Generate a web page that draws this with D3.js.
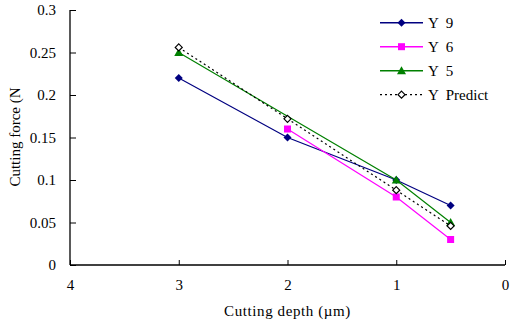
<!DOCTYPE html>
<html>
<head>
<meta charset="utf-8">
<script src="https://cdn.jsdelivr.net/npm/d3@7/dist/d3.min.js"></script>
<style>
body { margin: 0; background: #fff; }
text { font-family: "Liberation Serif", "Times New Roman", serif; font-size: 15px; fill: #000; }
</style>
</head>
<body>
<div id="chartArea"></div>
<script>
// depths (um) and forces (N)
var depth9 = [3, 2, 1, 0.5];
var y9 = [0.22, 0.15, 0.10, 0.07];
var depth6 = [2, 1, 0.5];
var y6 = [0.16, 0.08, 0.03];
var depth5 = [3, 1, 0.5];
var y5 = [0.25, 0.10, 0.05];
var depthP = [3, 2, 1, 0.5];
var yPredict = [0.256, 0.172, 0.088, 0.046];

var xTicks = [4, 3, 2, 1, 0];
var yTicks = [0, 0.05, 0.1, 0.15, 0.2, 0.25, 0.3];
var seriesNames = ['Y 9', 'Y 6', 'Y 5', 'Y Predict'];

var W = 510, H = 324;
var margin = {top: 10, right: 5, bottom: 59, left: 70};
var w = W - margin.left - margin.right,
    h = H - margin.top - margin.bottom;

var svg = d3.select('#chartArea').append('svg')
    .attr('width', W)
    .attr('height', H)
    .append('g')
    .attr('transform', 'translate(' + margin.left + ',' + margin.top + ')');

var xScale = d3.scaleLinear().domain([4, 0]).range([0, w]);
var yScale = d3.scaleLinear().domain([0, 0.3]).range([h, 0]);

var series = [
    {name: seriesNames[0], xs: depth9, ys: y9, color: '#000080', marker: 'diamond', dash: null},
    {name: seriesNames[1], xs: depth6, ys: y6, color: '#ff00ff', marker: 'square', dash: null},
    {name: seriesNames[2], xs: depth5, ys: y5, color: '#008000', marker: 'triangle', dash: null},
    {name: seriesNames[3], xs: depthP, ys: yPredict, color: '#000', marker: 'open', dash: '2,3'}
];

// axes
var xAxis = d3.axisBottom(xScale).tickValues(xTicks).tickSize(-5).tickPadding(14)
    .tickFormat(d3.format('d'));
var yAxis = d3.axisLeft(yScale).tickValues(yTicks).tickSize(-6).tickPadding(14)
    .tickFormat(function (d) { return d === 0 ? '0' : d3.format('')(+d.toFixed(2)); });

svg.append('g').attr('transform', 'translate(0,' + h + ')').call(xAxis);
svg.append('g').call(yAxis);
svg.selectAll('.domain').attr('stroke', '#000').attr('stroke-width', 1.3);
svg.selectAll('.tick line').attr('stroke', '#000');
svg.selectAll('.tick text').style('font-size', '15px').attr('font-family', null);
svg.selectAll('.domain').each(function () {
    // remove end caps of domain path
    var p = d3.select(this);
    var isX = p.node().parentNode.getAttribute('transform');
    p.attr('d', isX ? 'M0,0H' + w : 'M0,' + h + 'V0');
});

// axis titles
svg.append('text')
    .attr('x', w / 2)
    .attr('y', h + 51)
    .attr('text-anchor', 'middle')
    .style('letter-spacing', '0.6px')
    .text('Cutting depth (\u00b5m)');

svg.append('text')
    .attr('transform', 'translate(' + (-50) + ',' + 127 + ') rotate(-90)')
    .attr('text-anchor', 'middle')
    .text('Cutting force (N');

var line = d3.line();

function drawMarker(g, m, color, x, y) {
    if (m === 'diamond') {
        g.append('path').attr('d', 'M' + x + ',' + (y - 4) + 'L' + (x + 4) + ',' + y + 'L' + x + ',' + (y + 4) + 'L' + (x - 4) + ',' + y + 'Z')
            .attr('fill', color);
    } else if (m === 'square') {
        g.append('rect').attr('x', x - 3.5).attr('y', y - 3.5).attr('width', 7).attr('height', 7).attr('fill', color);
    } else if (m === 'triangle') {
        g.append('path').attr('d', 'M' + x + ',' + (y - 4.5) + 'L' + (x + 4.5) + ',' + (y + 3.5) + 'L' + (x - 4.5) + ',' + (y + 3.5) + 'Z')
            .attr('fill', color);
    } else {
        g.append('path').attr('d', 'M' + x + ',' + (y - 3.5) + 'L' + (x + 3.5) + ',' + y + 'L' + x + ',' + (y + 3.5) + 'L' + (x - 3.5) + ',' + y + 'Z')
            .attr('fill', '#fff').attr('stroke', '#000').attr('stroke-width', 1.2);
    }
}

series.forEach(function (s) {
    var pts = s.xs.map(function (d, i) { return [xScale(d), yScale(s.ys[i])]; });
    var g = svg.append('g');
    g.append('path')
        .attr('d', line(pts))
        .attr('fill', 'none')
        .attr('stroke', s.color)
        .attr('stroke-width', 1.2)
        .attr('stroke-dasharray', s.dash);
    pts.forEach(function (p) { drawMarker(g, s.marker, s.color, p[0], p[1]); });
});

// legend
var legend = svg.append('g').attr('transform', 'translate(' + (380 - margin.left) + ',' + (22.7 - margin.top) + ')');
series.forEach(function (s, i) {
    var row = legend.append('g').attr('transform', 'translate(0,' + i * 24 + ')');
    row.append('line').attr('x1', 0).attr('x2', 43).attr('y1', 0).attr('y2', 0)
        .attr('stroke', s.color).attr('stroke-width', s.dash ? 1.2 : 1.5)
        .attr('stroke-dasharray', s.dash);
    drawMarker(row, s.marker, s.color, 21.5, 0);
    row.append('text').attr('x', 48).attr('y', 5)
        .style('white-space', 'pre')
        .text(s.name.replace(' ', '  '));
});
</script>
</body>
</html>
